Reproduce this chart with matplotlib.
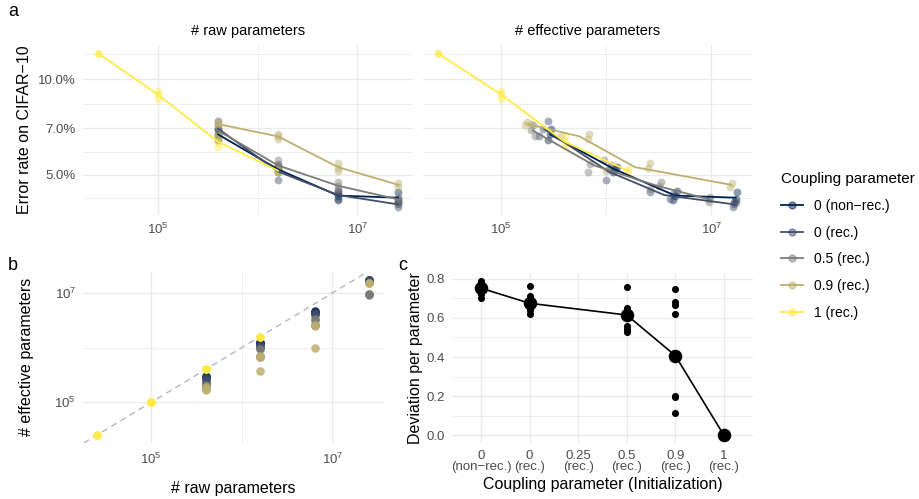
import numpy as np
import matplotlib
matplotlib.use('Agg')
import matplotlib.pyplot as plt
from matplotlib.lines import Line2D
from matplotlib.ticker import FixedLocator, FixedFormatter, LogFormatterMathtext, NullFormatter

plt.rcParams['font.family'] = ['Liberation Sans', 'DejaVu Sans']

coupling_labels = ['0 (non\u2212rec.)', '0 (rec.)', '0.5 (rec.)', '0.9 (rec.)', '1 (rec.)']
coupling_colors = ['#00204D', '#414D6B', '#7C7B78', '#BCAF6F', '#FFEA46']

# one entry per training run: raw parameter count, effective count, test error (%)
nonrec_raw = [4e5] * 3 + [1.6e6] * 3 + [6.4e6] * 3 + [2.56e7] * 3
nonrec_eff = [3.0e5, 2.9e5, 2.8e5, 1.25e6, 1.2e6, 1.15e6, 4.7e6, 4.5e6, 4.3e6, 1.75e7, 1.7e7, 1.65e7]
nonrec_err = [6.95, 6.7, 6.45, 5.3, 5.2, 5.1, 4.45, 4.3, 4.15, 4.4, 4.2, 4.1]

rec0_raw = [4e5] * 3 + [1.6e6] * 3 + [6.4e6] * 3 + [2.56e7] * 3
rec0_eff = [2.8e5, 2.5e5, 2.3e5, 1.1e6, 1.05e6, 1.0e6, 4.3e6, 4.0e6, 2.6e6, 1.7e7, 1.65e7, 1.6e7]
rec0_err = [7.4, 6.95, 6.6, 5.35, 5.2, 4.8, 4.35, 4.2, 4.4, 4.1, 4.05, 3.95]

rec05_raw = [4e5] * 3 + [1.6e6] * 3 + [6.4e6] * 3 + [2.56e7] * 3
rec05_eff = [2.0e5, 1.9e5, 2.1e5, 9.5e5, 7.0e5, 6.7e5, 3.3e6, 3.2e6, 2.6e6, 9.6e6, 9.5e6, 9.4e6]
rec05_err = [7.15, 6.9, 6.6, 5.55, 5.4, 5.1, 4.75, 4.6, 4.5, 4.25, 4.2, 4.1]

rec09_raw = [4e5] * 3 + [1.6e6] * 3 + [6.4e6] * 3 + [2.56e7] * 2
rec09_eff = [1.75e5, 1.9e5, 1.7e5, 6.9e5, 6.7e5, 3.7e5, 2.6e6, 2.5e6, 1.0e6, 1.55e7, 1.5e7]
rec09_err = [7.3, 7.2, 7.15, 6.7, 6.5, 6.6, 5.45, 5.25, 5.15, 4.72, 4.58]

rec1_raw = [2.5e4, 2.5e4, 1e5, 1e5, 1e5, 4e5, 4e5, 4e5, 1.6e6, 1.6e6]
rec1_eff = [2.5e4, 2.5e4, 1e5, 1e5, 1e5, 4e5, 4e5, 4e5, 1.6e6, 1.6e6]
rec1_err = [12.1, 12.0, 9.15, 9.0, 8.65, 6.6, 6.35, 6.1, 5.2, 5.1]

runs = [
    (nonrec_raw, nonrec_eff, nonrec_err),
    (rec0_raw, rec0_eff, rec0_err),
    (rec05_raw, rec05_eff, rec05_err),
    (rec09_raw, rec09_eff, rec09_err),
    (rec1_raw, rec1_eff, rec1_err),
]

# panel c: deviation per parameter after training
init_ticks = ['0\n(non\u2212rec.)', '0\n(rec.)', '0.25\n(rec.)', '0.5\n(rec.)', '0.9\n(rec.)', '1\n(rec.)']
dev_runs = [
    [0.79, 0.775, 0.755, 0.74, 0.72, 0.70],
    [0.765, 0.71, 0.70, 0.675, 0.66, 0.64, 0.62],
    [],
    [0.76, 0.65, 0.635, 0.62, 0.61, 0.56, 0.545, 0.53],
    [0.75, 0.68, 0.665, 0.62, 0.20, 0.195, 0.115],
    [0.0],
]
dev_means = [0.752, 0.675, np.nan, 0.615, 0.407, 0.0]

W, H = 920, 499
fig = plt.figure(figsize=(W / 100, H / 100), dpi=100)
grid_c = '#EBEBEB'
tick_c = '#4D4D4D'
TICK_FS = 9.5
TITLE_FS = 11.5


def axes_px(x0, y0, x1, y1):
    ax = fig.add_axes([x0 / W, 1 - y1 / H, (x1 - x0) / W, (y1 - y0) / H])
    for s in ax.spines.values():
        s.set_visible(False)
    ax.tick_params(which='both', length=0, colors=tick_c, labelsize=TICK_FS)
    ax.set_axisbelow(True)
    return ax


def log_lim(vals):
    lo, hi = np.log10(min(vals)), np.log10(max(vals))
    pad = 0.05 * (hi - lo)
    return 10 ** (lo - pad), 10 ** (hi + pad)


def style_grid(ax):
    ax.grid(True, which='major', color=grid_c, lw=1.0)
    ax.grid(True, which='minor', color=grid_c, lw=0.6)


def log_ticks(axis):
    axis.set_major_locator(FixedLocator([1e5, 1e7]))
    axis.set_minor_locator(FixedLocator([1e4, 1e6, 1e8]))
    axis.set_major_formatter(LogFormatterMathtext())
    axis.set_minor_formatter(NullFormatter())


all_raw = sum([r[0] for r in runs], [])
all_eff = sum([r[1] for r in runs], [])
all_err = sum([r[2] for r in runs], [])
err_lim = log_lim(all_err)

# ---- panel a: error vs raw / effective parameters ----
ax_raw = axes_px(83, 45, 413, 215)
ax_eff = axes_px(423, 45, 752, 215)
for ax, col, lim in [(ax_raw, 0, log_lim(all_raw)), (ax_eff, 1, log_lim(all_eff))]:
    ax.set_xscale('log')
    ax.set_yscale('log')
    for (raw, eff, err), c in zip(runs, coupling_colors):
        xs = np.array(raw if col == 0 else eff)
        ax.scatter(xs, err, s=32, color=c, alpha=0.45, lw=0, zorder=2)
    for (raw, eff, err), c in zip(runs, coupling_colors):
        raw = np.array(raw)
        eff = np.array(eff)
        err = np.array(err)
        sizes = sorted(set(raw))
        if col == 0:
            mx = sizes
        else:
            mx = [10 ** np.mean(np.log10(eff[raw == s])) for s in sizes]
        my = [err[raw == s].mean() for s in sizes]
        ax.plot(mx, my, color=c, lw=1.3, zorder=3)
    ax.set_xlim(lim)
    ax.set_ylim(err_lim)
    log_ticks(ax.xaxis)
    ax.yaxis.set_major_locator(FixedLocator([5, 7, 10]))
    ax.yaxis.set_minor_locator(FixedLocator([5 * np.sqrt(5 / 7), np.sqrt(35), np.sqrt(70), 10 * np.sqrt(10 / 7)]))
    ax.yaxis.set_major_formatter(FixedFormatter(['5.0%', '7.0%', '10.0%']))
    ax.yaxis.set_minor_formatter(NullFormatter())
    ax.tick_params(axis='x', pad=5)
    ax.tick_params(axis='y', pad=5)
    style_grid(ax)
ax_eff.tick_params(axis='y', labelleft=False)
ax_raw.set_title('# raw parameters', fontsize=10.5, pad=7)
ax_eff.set_title('# effective parameters', fontsize=10.5, pad=7)

# ---- panel b: effective vs raw parameters ----
ax_b = axes_px(83, 272, 383, 443)
ax_b.set_xscale('log')
ax_b.set_yscale('log')
for (raw, eff, err), c in zip(runs, coupling_colors):
    ax_b.scatter(raw, eff, s=38, color=c, alpha=0.85, lw=0, zorder=3)
ax_b.set_xlim(log_lim(all_raw))
ax_b.set_ylim(log_lim(all_eff))
ax_b.axline((1e5, 1e5), (1e6, 1e6), color='#BDBDBD', lw=1.1, ls=(0, (4, 3)), zorder=2)
log_ticks(ax_b.xaxis)
log_ticks(ax_b.yaxis)
ax_b.tick_params(axis='x', pad=6)
ax_b.tick_params(axis='y', pad=5)
style_grid(ax_b)

# ---- panel c: deviation per parameter by coupling at init ----
ax_c = axes_px(452, 273, 753, 443)
pos = np.arange(1, len(init_ticks) + 1)
for p, vals in zip(pos, dev_runs):
    ax_c.scatter([p] * len(vals), vals, s=26, color='black', lw=0, zorder=3)
dm = np.array(dev_means)
ok = ~np.isnan(dm)
ax_c.plot(pos[ok], dm[ok], color='black', lw=1.2, zorder=3)
ax_c.scatter(pos[ok], dm[ok], s=95, color='black', lw=0, zorder=4)
ax_c.set_xlim(0.4, 6.6)
ax_c.set_ylim(-0.04, 0.83)
ax_c.set_xticks(pos)
ax_c.set_xticklabels(init_ticks, linespacing=0.95)
ax_c.set_yticks([0.0, 0.2, 0.4, 0.6, 0.8])
ax_c.set_yticklabels(['0.0', '0.2', '0.4', '0.6', '0.8'])
ax_c.yaxis.set_minor_locator(FixedLocator([0.1, 0.3, 0.5, 0.7]))
ax_c.tick_params(axis='x', pad=5)
ax_c.tick_params(axis='y', pad=5)
ax_c.grid(True, axis='x', which='major', color=grid_c, lw=1.0)
ax_c.grid(True, axis='y', which='major', color=grid_c, lw=1.0)
ax_c.grid(True, axis='y', which='minor', color=grid_c, lw=0.6)

# axis titles and panel letters
fig.text(25 / W, 1 - 130 / H, 'Error rate on CIFAR\u221210', rotation=90, ha='center', va='center', fontsize=TITLE_FS)
fig.text(27 / W, 1 - 357 / H, '# effective parameters', rotation=90, ha='center', va='center', fontsize=TITLE_FS)
fig.text(233 / W, 1 - 488 / H, '# raw parameters', ha='center', va='center', fontsize=TITLE_FS)
fig.text(416 / W, 1 - 358 / H, 'Deviation per parameter', rotation=90, ha='center', va='center', fontsize=TITLE_FS)
fig.text(603 / W, 1 - 484 / H, 'Coupling parameter (Initialization)', ha='center', va='center', fontsize=TITLE_FS)
fig.text(8 / W, 1 - 12 / H, 'a', ha='left', va='center', fontsize=13)
fig.text(8 / W, 1 - 266 / H, 'b', ha='left', va='center', fontsize=13)
fig.text(398 / W, 1 - 266 / H, 'c', ha='left', va='center', fontsize=13)

# legend
handles = [(Line2D([], [], color=c, lw=1.3),
            Line2D([], [], color=c, marker='o', ls='', ms=5, alpha=0.5))
           for c in coupling_colors]
leg = fig.legend(handles, coupling_labels, title='Coupling parameter',
                 loc='upper left', bbox_to_anchor=(774 / W, 1 - 165 / H),
                 frameon=False, fontsize=10, title_fontsize=11, borderpad=0,
                 labelspacing=0.92, handlelength=1.6, handletextpad=0.8,
                 alignment='left')

fig.savefig('out.png', dpi=100)
